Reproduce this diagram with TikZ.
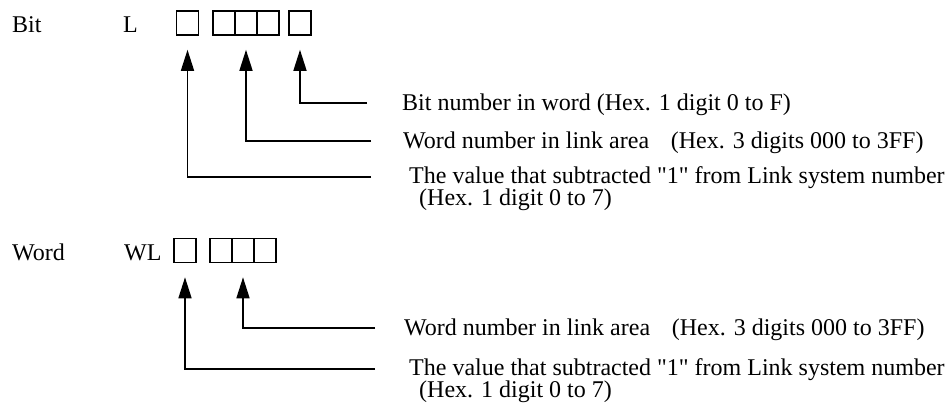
\documentclass[tikz,border=0pt]{standalone}
\usepackage{fontspec}
\setmainfont{Liberation Serif}[Ligatures=TeXOff]
\usetikzlibrary{arrows.meta}
\begin{document}
\begin{tikzpicture}[x=1pt,y=-1pt,
  lbl/.style={anchor=base west,inner sep=0pt,font=\fontsize{24}{24}\selectfont},
  cell/.style={draw,line width=1.6pt,minimum width=22pt,minimum height=24pt,inner sep=0pt},
  lead/.style={line width=1.6pt,-{Triangle[width=13pt,length=21pt]},shorten >=14pt},
]
\useasboundingbox (0,0) rectangle (948,407);

% ---- bit device: L + 1 + 3 + 1 digits ----
\node[lbl] (bitlbl) at (12,32) {Bit};
\node[lbl] (bitL) at (123,32) {L};
\node[cell] (b1) at (187.5,23) {};
\node[cell] (b2) at (224,23) {};
\node[cell] (b3) at (246,23) {};
\node[cell] (b4) at (268,23) {};
\node[cell] (b5) at (300,23) {};

\coordinate (e5) at (367,103);
\coordinate (e3) at (371,141);
\coordinate (e1) at (371,177);
\draw[lead] (e5) -| (b5.south);
\draw[lead] (e3) -| (b3.south);
\draw[lead] (e1) -| (b1.south);

\node[lbl] (tb5) at (402,110) {Bit number in word (Hex. 1 digit 0 to F)};
\node[lbl] (tb3) at (403,148) {Word number in link area\hspace{0.9em}(Hex. 3 digits 000 to 3FF)};
\node[lbl] (tb1) at (409,183) {The value that subtracted "1" from Link system number};
\node[lbl] (tb1b) at (419,205) {(Hex. 1 digit 0 to 7)};

% ---- word device: WL + 1 + 3 digits ----
\node[lbl] (wordlbl) at (12,260) {Word};
\node[lbl] (wordWL) at (124,260) {WL};
\node[cell] (w1) at (185,250.5) {};
\node[cell] (w2) at (221,250.5) {};
\node[cell] (w3) at (243,250.5) {};
\node[cell] (w4) at (265,250.5) {};

\coordinate (f3) at (375,328);
\coordinate (f1) at (375,369);
\draw[lead] (f3) -| (w3.south);
\draw[lead] (f1) -| (w1.south);

\node[lbl] (tw3) at (404,335) {Word number in link area\hspace{0.9em}(Hex. 3 digits 000 to 3FF)};
\node[lbl] (tw1) at (409,375) {The value that subtracted "1" from Link system number};
\node[lbl] (tw1b) at (419,397) {(Hex. 1 digit 0 to 7)};
\end{tikzpicture}
\end{document}
